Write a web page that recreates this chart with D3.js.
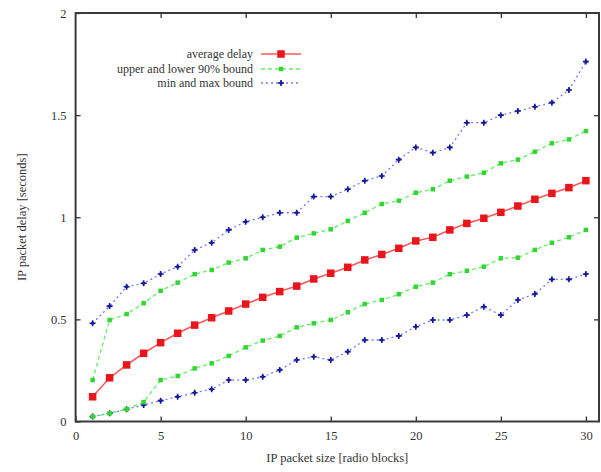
<!DOCTYPE html>
<html>
<head>
<meta charset="utf-8">
<script src="https://cdn.jsdelivr.net/npm/d3@7"></script>
<style>
  html, body { margin: 0; padding: 0; background: #fff; }
  svg { display: block; }
  text { font-family: "Liberation Serif", "DejaVu Serif", serif; fill: #333; }
</style>
</head>
<body>
<svg id="chart" width="601" height="472"></svg>
<script>
// IP packet size in radio blocks
const sizes = d3.range(1, 31);

// Delay statistics in seconds, one value per packet size
const avgDelay = [0.121, 0.214, 0.277, 0.334, 0.386, 0.432, 0.472, 0.508, 0.541, 0.575,
                  0.608, 0.636, 0.663, 0.698, 0.726, 0.755, 0.791, 0.818, 0.848, 0.884,
                  0.902, 0.938, 0.970, 0.995, 1.024, 1.055, 1.088, 1.117, 1.145, 1.179];
const upper90 = [0.203, 0.497, 0.526, 0.579, 0.640, 0.680, 0.721, 0.742, 0.778, 0.799,
                 0.840, 0.856, 0.900, 0.921, 0.941, 0.982, 1.022, 1.065, 1.081, 1.120,
                 1.137, 1.179, 1.199, 1.218, 1.264, 1.282, 1.321, 1.362, 1.381, 1.422];
const lower90 = [0.024, 0.040, 0.060, 0.095, 0.203, 0.223, 0.260, 0.285, 0.321, 0.363,
                 0.396, 0.419, 0.461, 0.481, 0.497, 0.535, 0.575, 0.595, 0.623, 0.660,
                 0.680, 0.721, 0.738, 0.758, 0.799, 0.802, 0.840, 0.875, 0.902, 0.938];
const maxDelay = [0.481, 0.565, 0.660, 0.677, 0.722, 0.758, 0.840, 0.875, 0.938, 0.978,
                  1.000, 1.022, 1.022, 1.101, 1.101, 1.137, 1.179, 1.202, 1.282, 1.342,
                  1.316, 1.342, 1.463, 1.463, 1.500, 1.520, 1.541, 1.561, 1.623, 1.762];
const minDelay = [0.024, 0.040, 0.060, 0.081, 0.102, 0.121, 0.141, 0.158, 0.203, 0.203,
                  0.219, 0.252, 0.301, 0.317, 0.301, 0.342, 0.399, 0.399, 0.419, 0.464,
                  0.497, 0.497, 0.521, 0.562, 0.521, 0.595, 0.624, 0.696, 0.696, 0.722];

const xTicks = [0, 5, 10, 15, 20, 25, 30];
const yTicks = [0, 0.5, 1, 1.5, 2];
const legendLabels = ["average delay", "upper and lower 90% bound", "min and max bound"];

const svg = d3.select("#chart");
const plotLeft = 75.6, plotRight = 599, plotTop = 13, plotBottom = 421.5;

const x = d3.scaleLinear().domain([0, 30.77]).range([plotLeft, plotRight]);
const y = d3.scaleLinear().domain([0, 2]).range([plotBottom, plotTop]);

// soft rendering for the plotted lines
const defs = svg.append("defs");
defs.append("filter").attr("id", "soft")
  .attr("x", "-5%").attr("y", "-5%").attr("width", "110%").attr("height", "110%")
  .append("feGaussianBlur").attr("stdDeviation", 0.45);

const tickLen = 5;
const fmt = d => String(d);

// axes with inward ticks
const gx = svg.append("g").attr("transform", `translate(0,${plotBottom})`)
  .call(d3.axisBottom(x).tickValues(xTicks).tickFormat(fmt).tickSizeInner(-tickLen).tickSizeOuter(0).tickPadding(10));
const gxTop = svg.append("g").attr("transform", `translate(0,${plotTop})`)
  .call(d3.axisTop(x).tickValues(xTicks.filter(d => d > 0)).tickSizeInner(-tickLen).tickSizeOuter(0).tickFormat(""));
const gy = svg.append("g").attr("transform", `translate(${plotLeft},0)`)
  .call(d3.axisLeft(y).tickValues(yTicks).tickFormat(fmt).tickSizeInner(-tickLen).tickSizeOuter(0).tickPadding(9));
const gyRight = svg.append("g").attr("transform", `translate(${plotRight},0)`)
  .call(d3.axisRight(y).tickValues(yTicks.filter(d => d > 0 && d < 2)).tickSizeInner(-tickLen).tickSizeOuter(0).tickFormat(""));

[gx, gxTop, gy, gyRight].forEach(g => {
  g.select(".domain").remove();
  g.selectAll(".tick line").attr("stroke", "#333").attr("stroke-width", 1.3);
  g.selectAll(".tick text").style("font-family", '"Liberation Serif", serif')
    .style("font-size", "12.5px").attr("fill", "#333");
});

// plot border
svg.append("rect").attr("x", plotLeft).attr("y", plotTop)
  .attr("width", plotRight - plotLeft).attr("height", plotBottom - plotTop)
  .attr("fill", "none").attr("stroke", "#3a3a3a").attr("stroke-width", 2);

// axis titles
svg.append("text").attr("x", (plotLeft + plotRight) / 2).attr("y", 462)
  .attr("text-anchor", "middle").style("font-size", "12.5px")
  .text("IP packet size [radio blocks]");
svg.append("text").attr("transform", `translate(26,${(plotTop + plotBottom) / 2}) rotate(-90)`)
  .attr("text-anchor", "middle").style("font-size", "12.5px")
  .text("IP packet delay [seconds]");

const plot = svg.append("g").attr("filter", "url(#soft)");
const line = d3.line().x((d, i) => x(sizes[i])).y(d => y(d));

const styles = {
  avg:   { line: "#ff5a5a", dash: null,  width: 1.6, mark: "#e8141c", size: 7.5, shape: "square" },
  bound: { line: "#66ee66", dash: "4,3", width: 1.3, mark: "#33d633", size: 4.5, shape: "square" },
  minmax:{ line: "#7777ff", dash: "2,3", width: 1.3, mark: "#1a1a9a", size: 6,   shape: "plus" }
};

function drawMarks(g, vals, st, px, py) {
  if (st.shape === "square") {
    g.selectAll(null).data(vals).enter().append("rect")
      .attr("x", (d, i) => (px ? px : x(sizes[i])) - st.size / 2)
      .attr("y", d => (py ? py : y(d)) - st.size / 2)
      .attr("width", st.size).attr("height", st.size)
      .attr("fill", st.mark);
  } else {
    const h = st.size / 2;
    g.selectAll(null).data(vals).enter().append("path")
      .attr("d", (d, i) => {
        const cx = px ? px : x(sizes[i]), cy = py ? py : y(d);
        return `M${cx - h},${cy}H${cx + h}M${cx},${cy - h}V${cy + h}`;
      })
      .attr("stroke", st.mark).attr("stroke-width", 1.6).attr("fill", "none");
    g.selectAll(null).data(vals).enter().append("circle")
      .attr("cx", (d, i) => px ? px : x(sizes[i]))
      .attr("cy", d => py ? py : y(d))
      .attr("r", 1.7).attr("fill", st.mark);
  }
}

function drawSeries(vals, st) {
  const g = plot.append("g");
  g.append("path").datum(vals).attr("d", line)
    .attr("fill", "none").attr("stroke", st.line).attr("stroke-width", st.width)
    .attr("stroke-dasharray", st.dash);
  drawMarks(g, vals, st);
}

drawSeries(minDelay, styles.minmax);
drawSeries(maxDelay, styles.minmax);
drawSeries(lower90, styles.bound);
drawSeries(upper90, styles.bound);
drawSeries(avgDelay, styles.avg);

// legend
const legendStyles = [styles.avg, styles.bound, styles.minmax];
const legendY = [54, 69, 83];
const lg = svg.append("g");
legendLabels.forEach((lab, i) => {
  lg.append("text").attr("x", 253).attr("y", legendY[i]).attr("dy", "0.35em")
    .attr("text-anchor", "end").style("font-size", "12px").text(lab);
  const st = legendStyles[i];
  const g = lg.append("g").attr("filter", "url(#soft)");
  g.append("line").attr("x1", 261).attr("x2", 301).attr("y1", legendY[i]).attr("y2", legendY[i])
    .attr("stroke", st.line).attr("stroke-width", st.width).attr("stroke-dasharray", st.dash);
  drawMarks(g, [0], st, 281, legendY[i]);
});
</script>
</body>
</html>
